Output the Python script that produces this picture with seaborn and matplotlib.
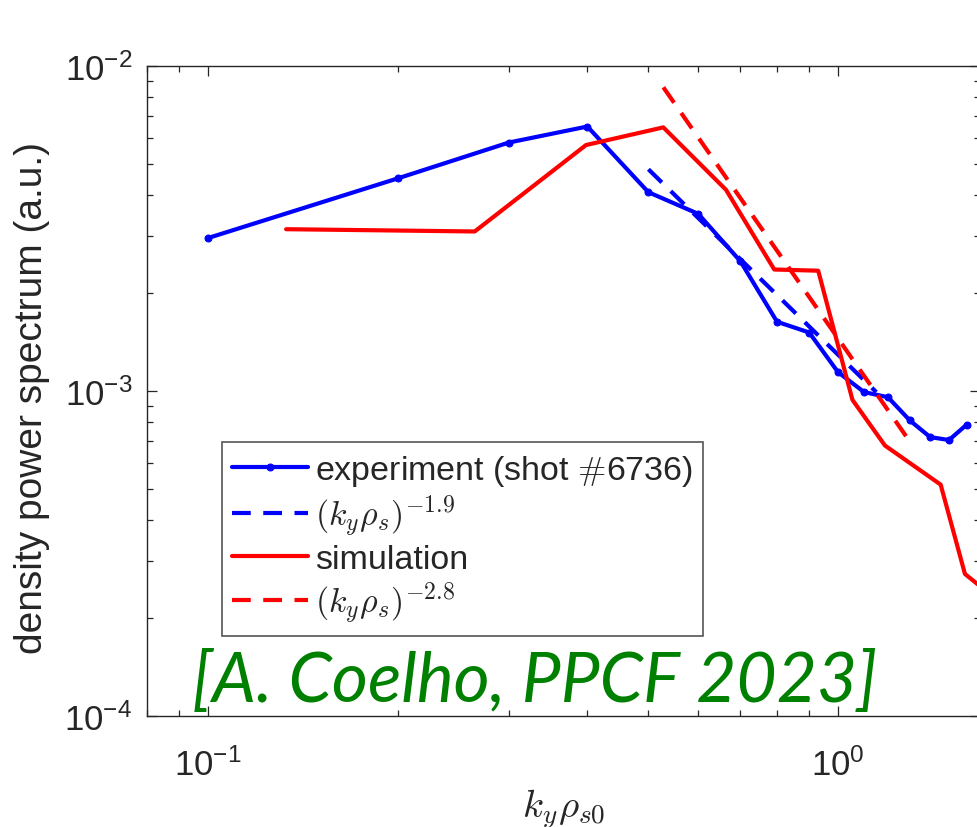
import numpy as np
import pandas as pd
import matplotlib
matplotlib.use("Agg")
import matplotlib.pyplot as plt
import matplotlib.ticker as mticker
import seaborn as sns

# experiment (shot #6736)
exp_k = [0.1, 0.2, 0.3, 0.4, 0.5, 0.6, 0.7, 0.8, 0.9, 1.0, 1.1, 1.2, 1.3, 1.4, 1.5, 1.6]
exp_p = [2.95e-3, 4.5e-3, 5.8e-3, 6.5e-3, 4.08e-3, 3.5e-3, 2.5e-3, 1.63e-3,
         1.51e-3, 1.14e-3, 0.99e-3, 0.955e-3, 0.81e-3, 0.72e-3, 0.705e-3, 0.786e-3]

# simulation
sim_k = [0.133, 0.265, 0.398, 0.528, 0.664, 0.792, 0.93, 1.054, 1.187, 1.455, 1.59, 1.75]
sim_p = [3.14e-3, 3.09e-3, 5.7e-3, 6.46e-3, 4.15e-3, 2.36e-3, 2.34e-3, 0.937e-3,
         0.678e-3, 0.514e-3, 0.273e-3, 0.235e-3]

# power-law fit lines (end points)
fit_exp_k = [0.5, 1.15]
fit_exp_p = [4.8e-3, 0.99e-3]
fit_sim_k = [0.528, 1.285]
fit_sim_p = [8.58e-3, 0.72e-3]

sns.set_style("ticks")
plt.rcParams['font.family'] = ['Liberation Sans', 'DejaVu Sans']
plt.rcParams['mathtext.fontset'] = 'cm'

fig = plt.figure(figsize=(9.78, 8.28), dpi=100)
ax = fig.add_axes([146.7 / 978, (828 - 716.7) / 828, (980 - 146.7) / 978, 650 / 828])

dash = (0, (4.5, 3))
sns.lineplot(x=exp_k, y=exp_p, ax=ax, color='#0000ff', lw=3, marker='o', ms=5,
             mec='#0000ff', label='experiment (shot $\\#$6736)')
sns.lineplot(x=fit_exp_k, y=fit_exp_p, ax=ax, color='#0000ff', lw=3, linestyle=dash,
             label='$(k_y\\rho_s)^{-1.9}$')
sns.lineplot(x=sim_k, y=sim_p, ax=ax, color='#ff0000', lw=3, label='simulation')
sns.lineplot(x=fit_sim_k, y=fit_sim_p, ax=ax, color='#ff0000', lw=3, linestyle=dash,
             label='$(k_y\\rho_s)^{-2.8}$')

ax.set(xscale='log', yscale='log')
ax.set_xlim(0.0799, 1.68)
ax.set_ylim(1e-4, 1e-2)
ax.xaxis.set_minor_formatter(mticker.NullFormatter())
ax.yaxis.set_minor_formatter(mticker.NullFormatter())

for s in ax.spines.values():
    s.set_color('#262626')
    s.set_linewidth(1.0)
ax.tick_params(which='both', direction='in', top=True, right=True, colors='#262626',
               labelsize=25, width=0.9)
ax.tick_params(which='major', length=7)
ax.tick_params(which='minor', length=4)
ax.tick_params(axis='y', pad=10.5)
ax.tick_params(axis='x', pad=23)

ax.set_xlabel('$k_y\\rho_{s0}$', fontsize=28, labelpad=3, color='#262626')
ax.set_ylabel('density power spectrum (a.u.)', fontsize=28, color='#262626')
ax.yaxis.set_label_coords(-0.116, 0.49)

leg = ax.legend(loc='upper left', bbox_to_anchor=(221.7 / 978, 1 - 443.3 / 828),
                bbox_transform=fig.transFigure, fontsize=24.5, frameon=True, fancybox=False,
                framealpha=1, edgecolor='#555555', borderaxespad=0, borderpad=0.3,
                labelspacing=0.15, handlelength=2.25, handletextpad=0.2)
leg.get_frame().set_linewidth(1.2)

fig.text(191.7 / 978, 1 - 702 / 828, '[A. Coelho, PPCF 2023]', color='#008000',
         fontsize=50, style='italic', family=['Lato', 'DejaVu Sans'],
         ha='left', va='baseline')

fig.savefig('out.png', dpi=100)
